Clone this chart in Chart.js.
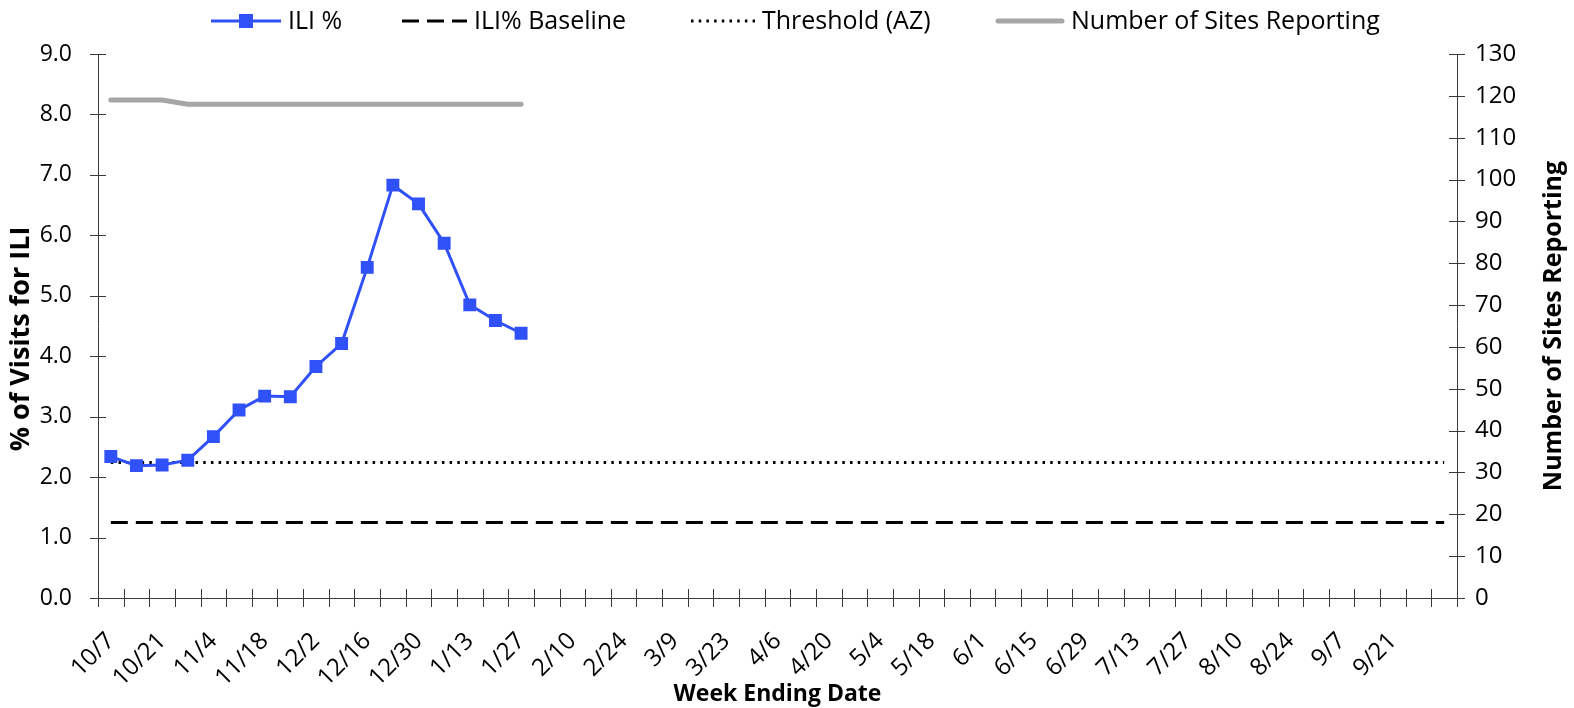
<!DOCTYPE html>
<html>
<head>
<meta charset="utf-8">
<script src="https://cdn.jsdelivr.net/npm/chart.js@4"></script>
<style>
  html, body { margin: 0; padding: 0; background: #fff; }
  #wrap { width: 1574px; height: 708px; }
</style>
</head>
<body>
<div id="wrap"><canvas id="iliChart" width="1574" height="708"></canvas></div>
<script>
// Semanas (fin de semana) 2023-24
const weekLabels = ['10/7', '10/14', '10/21', '10/28', '11/4', '11/11', '11/18', '11/25',
  '12/2', '12/9', '12/16', '12/23', '12/30', '1/6', '1/13', '1/20', '1/27', '2/3',
  '2/10', '2/17', '2/24', '3/2', '3/9', '3/16', '3/23', '3/30', '4/6', '4/13',
  '4/20', '4/27', '5/4', '5/11', '5/18', '5/25', '6/1', '6/8', '6/15', '6/22',
  '6/29', '7/6', '7/13', '7/20', '7/27', '8/3', '8/10', '8/17', '8/24', '8/31',
  '9/7', '9/14', '9/21', '9/28', ''];

// Series
const iliPct = [2.34, 2.19, 2.20, 2.28, 2.67, 3.11, 3.34, 3.33, 3.83, 4.21,
  5.47, 6.83, 6.52, 5.87, 4.85, 4.59, 4.38];
const sitesReporting = [119, 119, 119, 118, 118, 118, 118, 118, 118, 118,
  118, 118, 118, 118, 118, 118, 118];
const baselineValue = 1.25;
const thresholdValue = 2.24;
const baseline = weekLabels.map(() => baselineValue);
const threshold = weekLabels.map(() => thresholdValue);

// Ejes
const leftTicks = [0, 1, 2, 3, 4, 5, 6, 7, 8, 9];
const rightTicks = [0, 10, 20, 30, 40, 50, 60, 70, 80, 90, 100, 110, 120, 130];

const FONT = "'Open Sans', 'Noto Sans', sans-serif";
const BLUE = '#3050f8';
const GREY = '#a6a6a6';

// Leyenda: posición x de cada muestra (como en el original)
const legendX = [211, 402, 691, 996];

function drawSample(g, kind, x0, y) {
    g.save();
    g.beginPath();
    if (kind === 0) {
        g.strokeStyle = BLUE;
        g.lineWidth = 3;
        g.moveTo(x0, y); g.lineTo(x0 + 70, y); g.stroke();
        g.fillStyle = BLUE;
        g.fillRect(x0 + 28, y - 7, 14, 14);
    } else if (kind === 1) {
        g.strokeStyle = '#000';
        g.lineWidth = 3;
        g.setLineDash([17, 8]);
        g.moveTo(x0, y); g.lineTo(x0 + 65, y); g.stroke();
    } else if (kind === 2) {
        g.strokeStyle = '#000';
        g.lineWidth = 3;
        g.setLineDash([2.5, 5.2]);
        g.moveTo(x0, y); g.lineTo(x0 + 64, y); g.stroke();
    } else {
        g.strokeStyle = GREY;
        g.lineWidth = 5;
        g.lineCap = 'round';
        g.moveTo(x0 + 2, y); g.lineTo(x0 + 66, y); g.stroke();
    }
    g.restore();
}

const customLegend = {
    id: 'customLegend',
    afterDraw(chart) {
        const g = chart.ctx;
        const y = 21;
        const widths = [70, 65, 64, 68];
        g.save();
        g.font = '25px ' + FONT;
        g.fillStyle = '#000';
        g.textAlign = 'left';
        g.textBaseline = 'middle';
        chart.data.datasets.forEach((ds, i) => {
            drawSample(g, i, legendX[i], y);
            g.fillText(ds.label, legendX[i] + widths[i] + 7, y + 1);
        });
        g.restore();
    }
};

// Marcas de eje que cruzan la línea (estilo Excel) y títulos verticales
const axisDecor = {
    id: 'axisDecor',
    afterDraw(chart) {
        const ctx = chart.ctx;
        const area = chart.chartArea;
        const yl = chart.scales.y;
        const yr = chart.scales.y1;
        ctx.save();
        ctx.strokeStyle = '#3a3a3a';
        ctx.lineWidth = 1;
        ctx.beginPath();
        const n = weekLabels.length;
        for (let i = 0; i <= n; i++) {
            const px = Math.round(area.left + (area.right - area.left) * i / n) + 0.5;
            ctx.moveTo(px, area.bottom - 9);
            ctx.lineTo(px, area.bottom + 9);
        }
        leftTicks.forEach(v => {
            const py = Math.round(yl.getPixelForValue(v)) + 0.5;
            ctx.moveTo(area.left - 8, py);
            ctx.lineTo(area.left + 8, py);
        });
        rightTicks.forEach(v => {
            const py = Math.round(yr.getPixelForValue(v)) + 0.5;
            ctx.moveTo(area.right - 8, py);
            ctx.lineTo(area.right + 8, py);
        });
        ctx.stroke();

        ctx.fillStyle = '#000';
        ctx.textAlign = 'center';
        ctx.textBaseline = 'middle';

        ctx.save();
        ctx.font = 'bold 27px ' + FONT;
        ctx.translate(21, 339);
        ctx.rotate(-Math.PI / 2);
        ctx.fillText('% of Visits for ILI', 0, 0);
        ctx.restore();

        ctx.font = 'bold 25px ' + FONT;
        ctx.translate(1554, (area.top + area.bottom) / 2);
        ctx.rotate(-Math.PI / 2);
        ctx.fillText('Number of Sites Reporting', 0, 0);
        ctx.restore();
    }
};

const ctx = document.getElementById('iliChart').getContext('2d');
const chart = new Chart(ctx, {
    type: 'line',
    data: {
        labels: weekLabels,
        datasets: [
            {
                label: 'ILI %',
                data: iliPct,
                yAxisID: 'y',
                borderColor: BLUE,
                backgroundColor: BLUE,
                borderWidth: 3,
                pointStyle: 'rect',
                pointRadius: 7,
                pointHoverRadius: 7,
                order: 0
            },
            {
                label: 'ILI% Baseline',
                data: baseline,
                yAxisID: 'y',
                borderColor: '#000',
                borderWidth: 3,
                borderDash: [17, 8],
                pointRadius: 0,
                order: 2
            },
            {
                label: 'Threshold (AZ)',
                data: threshold,
                yAxisID: 'y',
                borderColor: '#000',
                borderWidth: 3,
                borderDash: [2.5, 5.2],
                pointRadius: 0,
                order: 1
            },
            {
                label: 'Number of Sites Reporting',
                data: sitesReporting,
                yAxisID: 'y1',
                borderColor: GREY,
                borderWidth: 5,
                borderCapStyle: 'round',
                pointRadius: 0,
                order: 3
            }
        ]
    },
    options: {
        responsive: false,
        animation: false,
        layout: { padding: { top: 54 } },
        plugins: {
            legend: { display: false },
            tooltip: { enabled: false }
        },
        scales: {
            x: {
                type: 'category',
                offset: true,
                border: { display: true, color: '#3a3a3a', width: 1 },
                grid: { display: false, drawTicks: false, offset: true },
                ticks: {
                    autoSkip: false,
                    maxRotation: 45,
                    minRotation: 45,
                    padding: 29,
                    color: '#000',
                    font: { family: FONT, size: 24 },
                    callback: function(value, index) {
                        return index % 2 === 0 ? this.getLabelForValue(value) : '';
                    }
                },
                title: {
                    display: true,
                    text: 'Week Ending Date',
                    color: '#000',
                    font: { family: FONT, size: 23, weight: 'bold' },
                    padding: { top: 0, bottom: 0 }
                },
                afterFit(scale) { scale.height = 110; }
            },
            y: {
                position: 'left',
                min: 0,
                max: 9,
                border: { display: true, color: '#3a3a3a', width: 1 },
                grid: { display: false, drawTicks: false },
                ticks: {
                    stepSize: 1,
                    padding: 26,
                    color: '#000',
                    font: { family: FONT, size: 23 },
                    callback: v => v.toFixed(1)
                },
                afterFit(scale) { scale.width = 98; }
            },
            y1: {
                position: 'right',
                min: 0,
                max: 130,
                border: { display: true, color: '#3a3a3a', width: 1 },
                grid: { display: false, drawTicks: false },
                ticks: {
                    stepSize: 10,
                    padding: 18,
                    color: '#000',
                    font: { family: FONT, size: 24 }
                },
                afterFit(scale) { scale.width = 117; }
            }
        }
    },
    plugins: [axisDecor, customLegend]
});
</script>
</body>
</html>
